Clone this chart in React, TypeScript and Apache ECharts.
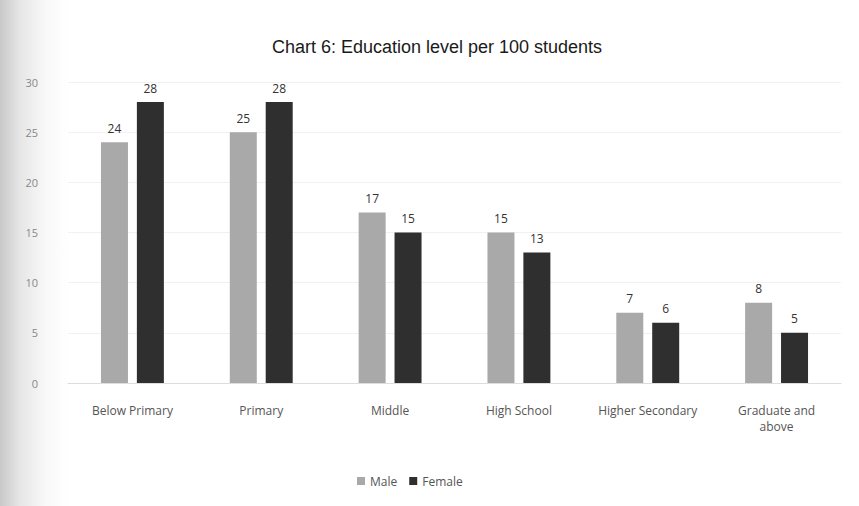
import React, { useEffect, useRef } from "react";
import * as echarts from "echarts";

const categories = ["Below Primary", "Primary", "Middle", "High School", "Higher Secondary", "Graduate and\nabove"];
const maleValues = [24, 25, 17, 15, 7, 8];
const femaleValues = [28, 28, 15, 13, 6, 5];
const yTicks = [0, 5, 10, 15, 20, 25, 30];

export default function App() {
  const ref = useRef<HTMLDivElement>(null);
  useEffect(() => {
    if (!ref.current) return;
    const chart = echarts.init(ref.current, undefined, { renderer: "svg" });
    const font = "'Open Sans', 'DejaVu Sans', sans-serif";
    chart.setOption({
      animation: false,
      backgroundColor: "transparent",
      title: {
        text: "Chart 6: Education level per 100 students",
        left: 432,
        textAlign: "center",
        top: 33,
        textStyle: { fontFamily: "'Liberation Sans', Arial, sans-serif", fontSize: 18, fontWeight: "normal", color: "#1a1a1a" },
      },
      legend: {
        bottom: 14,
        left: 352,
        itemWidth: 8,
        itemHeight: 8,
        itemGap: 12,
        icon: "rect",
        textStyle: { fontFamily: font, fontSize: 12, color: "#555" },
        data: ["Male", "Female"],
      },
      grid: { left: 68, right: 18, top: 82, bottom: 123 },
      xAxis: {
        type: "category",
        data: categories,
        axisLine: { lineStyle: { color: "#ddd" } },
        axisTick: { show: false },
        axisLabel: { fontFamily: font, fontSize: 12, color: "#555", margin: 19, interval: 0, lineHeight: 16 },
      },
      yAxis: {
        type: "value",
        min: yTicks[0],
        max: yTicks[yTicks.length - 1],
        interval: 5,
        axisLine: { show: false },
        axisTick: { show: false },
        splitLine: { lineStyle: { color: "#f1f1f1" } },
        axisLabel: { fontFamily: font, fontSize: 11, color: "#888", margin: 30 },
      },
      series: [
        {
          name: "Male",
          type: "bar",
          data: maleValues,
          barWidth: 27,
          barGap: "33%",
          itemStyle: { color: "#a9a9a9" },
          label: { show: true, position: "top", distance: 8, fontFamily: font, fontSize: 12, color: "#333" },
        },
        {
          name: "Female",
          type: "bar",
          data: femaleValues,
          barWidth: 27,
          itemStyle: { color: "#2f2f2f" },
          label: { show: true, position: "top", distance: 8, fontFamily: font, fontSize: 12, color: "#333" },
        },
      ],
    });
    return () => chart.dispose();
  }, []);
  return (
    <div
      style={{
        position: "fixed",
        left: 0,
        top: 0,
        width: 859,
        height: 506,
        background: "linear-gradient(to right, #c8c8c8 0px, #e6e6e6 20px, #f8f8f8 45px, #ffffff 70px)",
      }}
    >
      <div ref={ref} style={{ width: 859, height: 506 }} />
    </div>
  );
}
